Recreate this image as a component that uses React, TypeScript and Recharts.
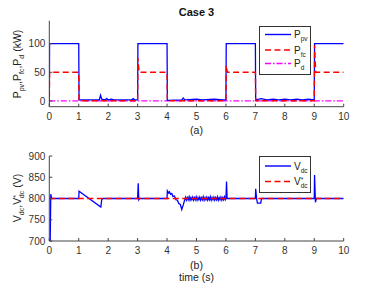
import React from "react";
import {Legend, Line, LineChart, XAxis, YAxis} from "recharts";

// time (s) / value pairs
const pvPower: [number, number][] = [
    [0, 0], [0.01, 100], [1, 100], [1.01, 2], [1.5, 2], [1.7, 2], [1.74, 10], [1.78, 3],
    [1.9, 2], [1.95, 4], [2.0, 2], [2.1, 3], [2.2, 2], [2.8, 2], [2.85, 4], [2.9, 2],
    [3, 2], [3.01, 100], [4, 100], [4.01, 1], [4.5, 2], [4.55, 5], [4.6, 2], [5.0, 3],
    [5.2, 2], [5.6, 3], [5.9, 2], [6, 2], [6.01, 100], [7, 100], [7.01, 2], [7.2, 4],
    [7.4, 2], [7.6, 3], [7.8, 2], [8.0, 3], [8.2, 2], [8.4, 3], [8.6, 2], [8.8, 3],
    [9, 2], [9.01, 100], [10, 100],
];
const fcPower: [number, number][] = [
    [0, -10], [0.01, 50], [1, 50], [1.01, 0.5], [3, 0.5], [3.01, 75], [3.05, 50],
    [4, 50], [4.01, 0.5], [6, 0.5], [6.01, 62], [6.05, 50], [7, 50], [7.01, 0.5],
    [9, 0.5], [9.01, 97], [9.05, 50], [10, 50],
];
const loadPower: [number, number][] = [[0, 0], [10, 0]];

const dcVoltage: [number, number][] = [
    [0, 700], [0.03, 700], [0.05, 810], [0.08, 800], [1, 800], [1.01, 817], [1.75, 780],
    [1.78, 797], [1.82, 800], [3, 800], [3.02, 836], [3.04, 797], [3.07, 800], [4, 800],
    [4.01, 818], [4.05, 813], [4.08, 816], [4.12, 810], [4.16, 812], [4.2, 805], [4.25, 806],
    [4.3, 797], [4.35, 796], [4.4, 788], [4.45, 786], [4.5, 774], [4.55, 785],
    [4.6, 797], [4.63, 803], [4.66, 796], [4.69, 802], [4.72, 797], [4.75, 804], [4.78, 796],
    [4.81, 802], [4.84, 797], [4.87, 803], [4.9, 796], [4.93, 802], [4.96, 797], [4.99, 804],
    [5.02, 796], [5.05, 802], [5.08, 797], [5.11, 803], [5.14, 796], [5.17, 802], [5.2, 797],
    [5.23, 804], [5.26, 796], [5.29, 802], [5.32, 797], [5.35, 803], [5.38, 796], [5.41, 802],
    [5.44, 797], [5.47, 804], [5.5, 796], [5.53, 802], [5.56, 797], [5.59, 803], [5.62, 796],
    [5.65, 802], [5.68, 797], [5.71, 804], [5.74, 796], [5.77, 802], [5.8, 797], [5.83, 803],
    [5.86, 796], [5.89, 802], [5.92, 797], [5.95, 804], [5.98, 797],
    [6, 800], [6.02, 840], [6.04, 800],
    [7, 800], [7.01, 823], [7.04, 800], [7.07, 789], [7.18, 789], [7.21, 800], [9, 800],
    [9.01, 855], [9.04, 791], [9.07, 800], [10, 800],
];
const dcRef: [number, number][] = [[0, 800], [10, 800]];

const timeTicks = [0, 1, 2, 3, 4, 5, 6, 7, 8, 9, 10];
const powerTicks = [0, 50, 100];
const voltTicks = [700, 750, 800, 850, 900];

const toRows = (pts: [number, number][]) => pts.map(([t, v]) => ({t, v}));

const FONT = "'Liberation Sans', Arial, sans-serif";
const AX = "#444";
const tickStyle = {fontSize: 10, fill: "#333", fontFamily: FONT};

// box axes: labelled bottom/left, bare ticks on top/right, ticks pointing inward
function axes(yDomain: number[], yTicks: number[]) {
    return [
        <XAxis key="xb" xAxisId="b" type="number" dataKey="t" domain={[0, 10]} ticks={timeTicks}
               allowDataOverflow height={20} tickSize={-3} tickMargin={9} stroke={AX}
               tick={tickStyle} interval={0}/>,
        <XAxis key="xt" xAxisId="t" orientation="top" type="number" dataKey="t" domain={[0, 10]}
               ticks={timeTicks} height={0} tickSize={-3} tick={false} stroke={AX}/>,
        <YAxis key="yl" yAxisId="l" type="number" domain={yDomain} ticks={yTicks} allowDataOverflow
               width={40} tickSize={-3} tickMargin={7} stroke={AX} tick={tickStyle} interval={0}/>,
        <YAxis key="yr" yAxisId="r" orientation="right" type="number" domain={yDomain} ticks={yTicks}
               width={0} tickSize={-3} tick={false} stroke={AX}/>,
    ];
}

function LegendBox(props: {rows: {color: string; dash?: string; label: React.ReactNode}[]; h: number; rowY: number[]}) {
    return (
        <svg width={52} height={props.h} style={{display: "block"}}>
            <rect x={0.5} y={0.5} width={51} height={props.h - 1} fill="#fff" stroke="#333" strokeWidth={1}/>
            {props.rows.map((r, i) => (
                <g key={i}>
                    <line x1={6} x2={32} y1={props.rowY[i]} y2={props.rowY[i]} stroke={r.color}
                          strokeWidth={1.4} strokeDasharray={r.dash}/>
                    <text x={35} y={props.rowY[i] + 3.5} fontSize={10} fontFamily={FONT} fill="#222">{r.label}</text>
                </g>
            ))}
        </svg>
    );
}

const sub = (s: string) => <tspan fontSize={6.5} dy={3}>{s}</tspan>;

export default function App() {
    return (
        <div style={{position: "absolute", left: 0, top: 0, width: 380, height: 285, background: "#fff"}}>
            <div style={{position: "absolute", left: 0, top: 0}}>
                <LineChart width={380} height={140} margin={{top: 20.7, right: 36.3, bottom: 13.3, left: 9.3}}>
                    {axes([-10, 140], powerTicks)}
                    <Line xAxisId="b" yAxisId="l" data={toRows(loadPower)} dataKey="v" type="linear" dot={false}
                          stroke="#ff00ff" strokeWidth={1.3} strokeDasharray="6 2 1.5 2" isAnimationActive={false}/>
                    <Line xAxisId="b" yAxisId="l" data={toRows(pvPower)} dataKey="v" type="linear" dot={false}
                          stroke="#0000ff" strokeWidth={1.3} isAnimationActive={false}/>
                    <Line xAxisId="b" yAxisId="l" data={toRows(fcPower)} dataKey="v" type="linear" dot={false}
                          stroke="#ff0000" strokeWidth={1.4} strokeDasharray="6 3.5" isAnimationActive={false}/>
                    <Legend layout="vertical" align="center" verticalAlign="middle"
                            wrapperStyle={{left: 259, top: 26, width: 52, height: 49}}
                            content={() => (
                                <LegendBox h={49} rowY={[8.5, 24, 37.5]} rows={[
                                    {color: "#0000ff", label: <>P{sub("pv")}</>},
                                    {color: "#ff0000", dash: "6 3.5", label: <>P{sub("fc")}</>},
                                    {color: "#ff00ff", dash: "6 2 1.5 2", label: <>P{sub("d")}</>},
                                ]}/>
                            )}/>
                </LineChart>
            </div>
            <div style={{position: "absolute", left: 0, top: 140}}>
                <LineChart width={380} height={145} margin={{top: 16, right: 36.3, bottom: 24, left: 9.3}}>
                    {axes([700, 900], voltTicks)}
                    <Line xAxisId="b" yAxisId="l" data={toRows(dcVoltage)} dataKey="v" type="linear" dot={false}
                          stroke="#0000ff" strokeWidth={1.3} isAnimationActive={false}/>
                    <Line xAxisId="b" yAxisId="l" data={toRows(dcRef)} dataKey="v" type="linear" dot={false}
                          stroke="#ff0000" strokeWidth={1.4} strokeDasharray="6 3.5" isAnimationActive={false}/>
                    <Legend layout="vertical" align="center" verticalAlign="middle"
                            wrapperStyle={{left: 259, top: 16, width: 52, height: 37}}
                            content={() => (
                                <LegendBox h={37} rowY={[10, 25.5]} rows={[
                                    {color: "#0000ff", label: <>V{sub("dc")}</>},
                                    {color: "#ff0000", dash: "6 3.5",
                                        label: <>V<tspan fontSize={6.5} dy={-3}>*</tspan><tspan fontSize={6.5} dx={-2.5} dy={6}>dc</tspan></>},
                                ]}/>
                            )}/>
                </LineChart>
            </div>
            <svg width={380} height={285} style={{position: "absolute", left: 0, top: 0, pointerEvents: "none"}}
                 fontFamily={FONT}>
                <text x={196.5} y={16} textAnchor="middle" fontSize={11} fontWeight="bold" fill="#111">Case 3</text>
                <text transform="translate(21,64) rotate(-90)" textAnchor="middle" fontSize={10.5} fill="#222">
                    P<tspan fontSize={7} dy={3}>pv</tspan><tspan dy={-3}>,P</tspan><tspan fontSize={7} dy={3}>fc</tspan><tspan dy={-3}>,P</tspan><tspan fontSize={7} dy={3}>d</tspan><tspan dy={-3}> (kW)</tspan>
                </text>
                <text x={196.5} y={134} textAnchor="middle" fontSize={10.5} fill="#222">(a)</text>
                <text transform="translate(21,198) rotate(-90)" textAnchor="middle" fontSize={10.5} fill="#222">
                    V<tspan fontSize={7} dy={3}>dc</tspan><tspan dy={-3}>,V</tspan><tspan fontSize={7} dy={-3}>*</tspan><tspan fontSize={7} dx={-3} dy={6}>dc</tspan><tspan dy={-3}> (V)</tspan>
                </text>
                <text x={196.5} y={269} textAnchor="middle" fontSize={10.5} fill="#222">(b)</text>
                <text x={196.5} y={281} textAnchor="middle" fontSize={10.5} fill="#222">time (s)</text>
            </svg>
        </div>
    );
}
